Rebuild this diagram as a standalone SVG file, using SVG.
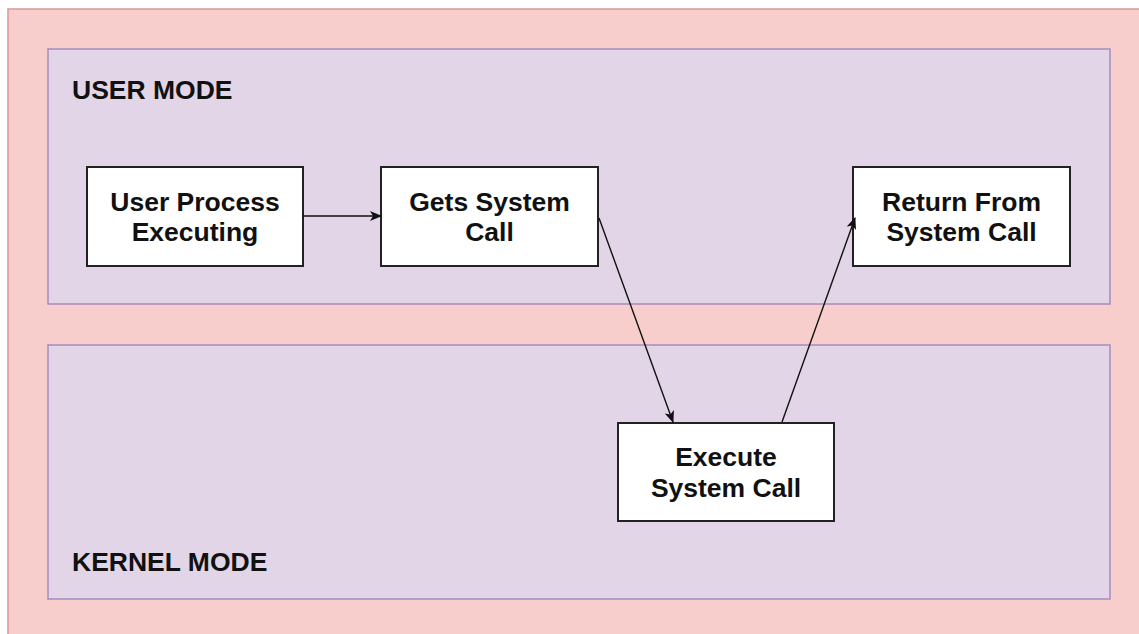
<svg xmlns="http://www.w3.org/2000/svg" width="1139" height="634" viewBox="0 0 1139 634">
<defs>
<style>
.lane{fill:#e1d5e7;stroke:#a68bbb;stroke-width:1.5}
.box{fill:#ffffff;stroke:#222222;stroke-width:2}
.t{font-family:"Liberation Sans",Arial,sans-serif;font-weight:bold;font-size:26.5px;fill:#111111}
.c{text-anchor:middle}
.edge{fill:none;stroke:#111111;stroke-width:1.4}
</style>
<marker id="arr" viewBox="0 0 12 10" refX="11" refY="5" markerWidth="12" markerHeight="10" markerUnits="userSpaceOnUse" orient="auto">
<path d="M0,0 L12,5 L0,10 L3,5 Z" fill="#111111"/>
</marker>
</defs>
<rect width="1139" height="634" fill="#ffffff"/>
<g id="outer">
<rect x="8" y="9" width="1140" height="640" fill="#f8cecc" stroke="#d99896" stroke-width="1.5"/>
</g>
<g id="user-mode">
<rect class="lane" x="48" y="49" width="1062" height="255"/>
<text class="t" x="72" y="99">USER MODE</text>
</g>
<g id="kernel-mode">
<rect class="lane" x="48" y="345" width="1062" height="254"/>
<text class="t" x="72" y="571">KERNEL MODE</text>
</g>
<g id="user-process">
<rect class="box" x="87" y="167" width="216" height="99"/>
<text class="t c" x="195" y="211">User Process</text>
<text class="t c" x="195" y="241">Executing</text>
</g>
<g id="gets-system-call">
<rect class="box" x="381" y="167" width="217" height="99"/>
<text class="t c" x="489.5" y="211">Gets System</text>
<text class="t c" x="489.5" y="241">Call</text>
</g>
<g id="return-from-system-call">
<rect class="box" x="853" y="167" width="217" height="99"/>
<text class="t c" x="961.5" y="211">Return From</text>
<text class="t c" x="961.5" y="241">System Call</text>
</g>
<g id="execute-system-call">
<rect class="box" x="618" y="423" width="216" height="98"/>
<text class="t c" x="726" y="466">Execute</text>
<text class="t c" x="726" y="497">System Call</text>
</g>
<g id="connectors">
<line class="edge" x1="303" y1="216" x2="381" y2="216" marker-end="url(#arr)"/>
<line class="edge" x1="599" y1="218" x2="673" y2="422" marker-end="url(#arr)"/>
<line class="edge" x1="782" y1="422" x2="855" y2="218" marker-end="url(#arr)"/>
</g>
</svg>
